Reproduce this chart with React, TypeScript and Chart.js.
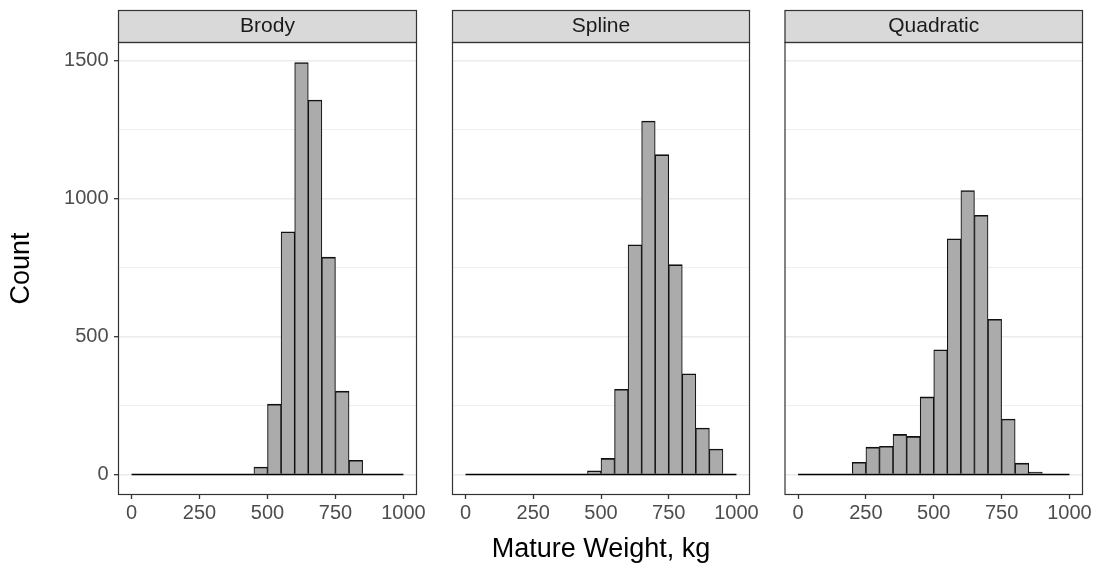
import { useEffect, useRef } from "react";
import { Chart, registerables } from "chart.js";

Chart.register(...registerables);

// ---- data (histogram, binwidth 50 kg) ----
const binCenters = [25, 75, 125, 175, 225, 275, 325, 375, 425, 475, 525, 575, 625, 675, 725, 775, 825, 875, 925, 975];
const brodyCounts = [0, 0, 0, 0, 0, 0, 0, 0, 0, 27, 255, 880, 1494, 1358, 788, 302, 51, 0, 0, 0];
const splineCounts = [0, 0, 0, 0, 0, 0, 0, 0, 0, 13, 58, 309, 833, 1282, 1160, 761, 365, 168, 92, 0];
const quadraticCounts = [0, 0, 0, 0, 44, 99, 102, 145, 138, 281, 452, 855, 1030, 940, 563, 201, 41, 8, 0, 0];
const panelNames = ["Brody", "Spline", "Quadratic"];
const xTickValues = [0, 250, 500, 750, 1000];
const yTickValues = [0, 250, 500, 750, 1000, 1250, 1500];
const xDataRange = [0, 1000];

const FONT = "'Liberation Sans', Arial, Helvetica, sans-serif";

const PANELS = [
  { left: 0, width: 434, padL: 0, padR: 17, yW: 118 },
  { left: 434, width: 333, padL: 18, padR: 17, yW: 0 },
  { left: 767, width: 330, padL: 17.5, padR: 14, yW: 0 },
];

const STRIP_H = 32;

const allCounts = [brodyCounts, splineCounts, quadraticCounts];
const yMaxData = Math.max(...allCounts.flat());
const xSpan = xDataRange[1] - xDataRange[0];

const framePlugin = {
  id: "panelFrame",
  beforeDraw(chart: any) {
    const { ctx, chartArea } = chart;
    const { left, right, top } = chartArea;
    ctx.save();
    ctx.fillStyle = "#D9D9D9";
    ctx.fillRect(left, top - STRIP_H, right - left, STRIP_H);
    ctx.restore();
  },
  afterDraw(chart: any) {
    const { ctx, chartArea } = chart;
    const { left, right, top, bottom } = chartArea;
    ctx.save();
    ctx.strokeStyle = "#333333";
    ctx.lineWidth = 1.2;
    ctx.strokeRect(left + 0.5, top - STRIP_H + 0.5, right - left - 1, STRIP_H);
    ctx.strokeRect(left + 0.5, top + 0.5, right - left - 1, bottom - top - 1);
    ctx.restore();
  },
};

function makeConfig(i: number): any {
  const first = i === 0;
  const middle = i === 1;
  const p = PANELS[i];
  const counts = allCounts[i];
  const isMajor = (ctx: any) => ctx.tick && ctx.tick.value % 500 === 0;
  return {
    type: "bar",
    data: {
      datasets: [
        {
          type: "line",
          data: [
            { x: xDataRange[0], y: 0 },
            { x: xDataRange[1], y: 0 },
          ],
          borderColor: "#000000",
          borderWidth: 1.5,
          pointRadius: 0,
          order: 0,
        },
        {
          type: "bar",
          data: binCenters.map((c, k) => ({ x: c, y: counts[k] })),
          backgroundColor: "#ABABAB",
          borderColor: "#111111",
          borderWidth: { top: 1.6, left: 1.1, right: 1.1, bottom: 0 },
          barPercentage: 1,
          categoryPercentage: 1,
          order: 1,
        },
      ],
    },
    options: {
      animation: false,
      responsive: true,
      maintainAspectRatio: false,
      layout: { padding: { left: p.padL, right: p.padR, top: 10, bottom: 0 } },
      plugins: {
        legend: { display: false },
        tooltip: { enabled: false },
        title: {
          display: true,
          text: panelNames[i],
          fullSize: false,
          color: "#1A1A1A",
          font: { size: 21, family: FONT, weight: "normal", lineHeight: 1.2 },
          padding: { top: 3.4, bottom: 3.4 },
        },
      },
      scales: {
        x: {
          type: "linear",
          offset: false,
          min: xDataRange[0] - 0.05 * xSpan,
          max: xDataRange[1] + 0.05 * xSpan,
          afterBuildTicks: (s: any) => {
            s.ticks = xTickValues.map((v) => ({ value: v }));
          },
          afterFit: (s: any) => {
            s.height = 75;
          },
          ticks: {
            color: "#4D4D4D",
            font: { size: 20, family: FONT },
            padding: 2,
            maxRotation: 0,
            autoSkip: false,
            callback: (v: any) => String(v),
          },
          grid: {
            offset: false,
            drawOnChartArea: false,
            drawTicks: true,
            tickLength: 4,
            tickColor: "#333333",
            tickWidth: 1.3,
          },
          border: { display: false },
          title: {
            display: middle,
            text: "Mature Weight, kg",
            color: "#000000",
            font: { size: 27, family: FONT, lineHeight: 1.2 },
            padding: { top: 0, bottom: 3.8 },
          },
        },
        y: {
          type: "linear",
          min: -0.05 * yMaxData,
          max: 1.05 * yMaxData,
          afterBuildTicks: (s: any) => {
            s.ticks = yTickValues.map((v) => ({ value: v }));
          },
          afterFit: (s: any) => {
            s.width = p.yW;
          },
          ticks: {
            display: first,
            color: "#4D4D4D",
            font: { size: 20, family: FONT },
            padding: 5.5,
            autoSkip: false,
            callback: (v: any) => (Number(v) % 500 === 0 ? String(v) : ""),
          },
          grid: {
            drawOnChartArea: true,
            color: "#EBEBEB",
            lineWidth: (ctx: any) => (isMajor(ctx) ? 1.4 : 0.8),
            drawTicks: first,
            tickLength: 4,
            tickColor: (ctx: any) => (isMajor(ctx) ? "#333333" : "rgba(0,0,0,0)"),
            tickWidth: 1.3,
          },
          border: { display: false },
          title: {
            display: first,
            text: "Count",
            color: "#000000",
            font: { size: 27, family: FONT, lineHeight: 1.2 },
            padding: { top: 5.8, bottom: 0 },
          },
        },
      },
    },
    plugins: [framePlugin],
  };
}

export default function App() {
  const r0 = useRef<HTMLCanvasElement>(null);
  const r1 = useRef<HTMLCanvasElement>(null);
  const r2 = useRef<HTMLCanvasElement>(null);
  const refs = [r0, r1, r2];

  useEffect(() => {
    const charts = refs.map((r, i) => new Chart(r.current as HTMLCanvasElement, makeConfig(i)));
    return () => charts.forEach((c) => c.destroy());
  }, []);

  return (
    <div style={{ position: "absolute", left: 0, top: 0, width: 1097, height: 570, background: "#ffffff" }}>
      {PANELS.map((p, i) => (
        <div key={i} style={{ position: "absolute", left: p.left, top: 0, width: p.width, height: 570 }}>
          <canvas ref={refs[i]} />
        </div>
      ))}
    </div>
  );
}
